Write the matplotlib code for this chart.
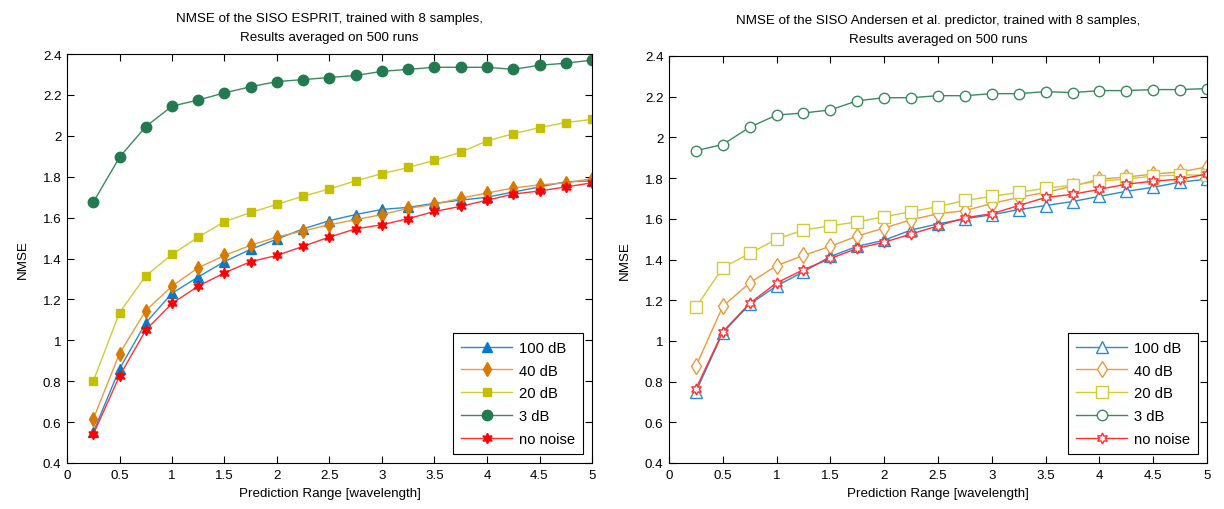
import matplotlib
matplotlib.use("Agg")
import matplotlib.pyplot as plt

plt.rcParams['font.family'] = ['Liberation Sans', 'DejaVu Sans']

x = [0.25, 0.5, 0.75, 1.0, 1.25, 1.5, 1.75, 2.0, 2.25, 2.5, 2.75, 3.0,
     3.25, 3.5, 3.75, 4.0, 4.25, 4.5, 4.75, 5.0]

labels = ["100 dB", "40 dB", "20 dB", "3 dB", "no noise"]

# Left: SISO ESPRIT
esprit_100 = [0.55, 0.86, 1.085, 1.23, 1.31, 1.385, 1.445, 1.495, 1.545, 1.585,
              1.615, 1.64, 1.65, 1.67, 1.685, 1.70, 1.725, 1.75, 1.775, 1.78]
esprit_40 = [0.615, 0.935, 1.145, 1.265, 1.355, 1.415, 1.465, 1.505, 1.535, 1.565,
             1.59, 1.615, 1.645, 1.665, 1.695, 1.72, 1.745, 1.76, 1.77, 1.79]
esprit_20 = [0.80, 1.135, 1.315, 1.42, 1.505, 1.58, 1.625, 1.665, 1.705, 1.74,
             1.78, 1.815, 1.845, 1.88, 1.92, 1.975, 2.01, 2.04, 2.065, 2.08]
esprit_3 = [1.675, 1.895, 2.045, 2.145, 2.175, 2.21, 2.24, 2.265, 2.275, 2.285,
            2.295, 2.315, 2.325, 2.335, 2.335, 2.335, 2.325, 2.345, 2.355, 2.37]
esprit_nn = [0.54, 0.825, 1.05, 1.18, 1.265, 1.33, 1.385, 1.415, 1.46, 1.505,
             1.545, 1.565, 1.595, 1.63, 1.655, 1.685, 1.715, 1.73, 1.75, 1.77]

# Right: SISO Andersen et al.
ander_100 = [0.75, 1.04, 1.18, 1.27, 1.34, 1.415, 1.465, 1.495, 1.545, 1.575,
             1.60, 1.62, 1.645, 1.665, 1.685, 1.71, 1.735, 1.755, 1.78, 1.795]
ander_40 = [0.875, 1.17, 1.285, 1.37, 1.42, 1.465, 1.515, 1.555, 1.595, 1.625,
            1.64, 1.675, 1.705, 1.73, 1.76, 1.795, 1.805, 1.82, 1.83, 1.855]
ander_20 = [1.165, 1.36, 1.43, 1.50, 1.545, 1.565, 1.585, 1.61, 1.635, 1.66,
            1.69, 1.71, 1.73, 1.75, 1.765, 1.785, 1.795, 1.81, 1.815, 1.815]
ander_3 = [1.935, 1.965, 2.05, 2.11, 2.12, 2.135, 2.18, 2.195, 2.195, 2.205,
           2.205, 2.215, 2.215, 2.225, 2.22, 2.23, 2.23, 2.235, 2.235, 2.24]
ander_nn = [0.765, 1.045, 1.185, 1.285, 1.35, 1.405, 1.455, 1.485, 1.525, 1.565,
            1.605, 1.625, 1.665, 1.705, 1.72, 1.745, 1.77, 1.785, 1.795, 1.82]

titles = ["NMSE of the SISO ESPRIT, trained with 8 samples,\nResults averaged on 500 runs",
          "NMSE of the SISO Andersen et al. predictor, trained with 8 samples,\nResults averaged on 500 runs"]
xlabel = "Prediction Range [wavelength]"
ylabel = "NMSE"
xticks = [0, 0.5, 1, 1.5, 2, 2.5, 3, 3.5, 4, 4.5, 5]
xticklabels = ["0", "0.5", "1", "1.5", "2", "2.5", "3", "3.5", "4", "4.5", "5"]
yticks = [0.4, 0.6, 0.8, 1.0, 1.2, 1.4, 1.6, 1.8, 2.0, 2.2, 2.4]
yticklabels = ["0.4", "0.6", "0.8", "1", "1.2", "1.4", "1.6", "1.8", "2", "2.2", "2.4"]

line_colors = ["#2b8ad0", "#eb9a3c", "#cfcb3a", "#3a8a5e", "#ff3030"]
face_colors = ["#0a78c8", "#d77a00", "#c4c000", "#237a4e", "#ff0000"]
markers = ["^", "d", "s", "o", (6, 1, 0)]
msizes_left = [7.5, 7.5, 6.3, 7.5, 7.5]
msizes_right = [8, 8, 8, 7.5, 8]

fig = plt.figure(figsize=(12.24, 5.10), dpi=100)
ax1 = fig.add_axes([67/1224, 1-464/510, 525/1224, 409/510])
ax2 = fig.add_axes([669/1224, 1-464/510, 538/1224, 407/510])

FS = 9.6


def style(ax, title):
    ax.set_xlim(0, 5)
    ax.set_ylim(0.4, 2.4)
    ax.set_xticks(xticks)
    ax.set_xticklabels(xticklabels)
    ax.set_yticks(yticks)
    ax.set_yticklabels(yticklabels)
    ax.tick_params(direction='in', top=True, right=True, length=5, width=0.8,
                   labelsize=FS, pad=4)
    for s in ax.spines.values():
        s.set_linewidth(0.8)
    ax.set_title(title, fontsize=FS, linespacing=1.75, pad=10)
    ax.set_xlabel(xlabel, fontsize=FS, labelpad=5)
    ax.set_ylabel(ylabel, fontsize=FS, labelpad=10)


series_left = [esprit_100, esprit_40, esprit_20, esprit_3, esprit_nn]
series_right = [ander_100, ander_40, ander_20, ander_3, ander_nn]

for i, ys in enumerate(series_left):
    ax1.plot(x, ys, color=line_colors[i], lw=1.0, marker=markers[i],
             ms=msizes_left[i], mfc=face_colors[i], mec=face_colors[i],
             label=labels[i])
for i, ys in enumerate(series_right):
    ax2.plot(x, ys, color=line_colors[i], lw=1.0, marker=markers[i],
             ms=msizes_right[i], mfc='white', mec=line_colors[i], mew=1.0,
             label=labels[i])

style(ax1, titles[0])
style(ax2, titles[1])

for ax in (ax1, ax2):
    leg = ax.legend(loc='lower right', fontsize=FS + 1, frameon=True, fancybox=False,
                    edgecolor='black', framealpha=1, borderpad=0.55,
                    handlelength=3.5, handletextpad=0.45, labelspacing=0.6,
                    borderaxespad=0.6)
    leg.get_frame().set_linewidth(0.8)

fig.savefig("out.png", dpi=100)
